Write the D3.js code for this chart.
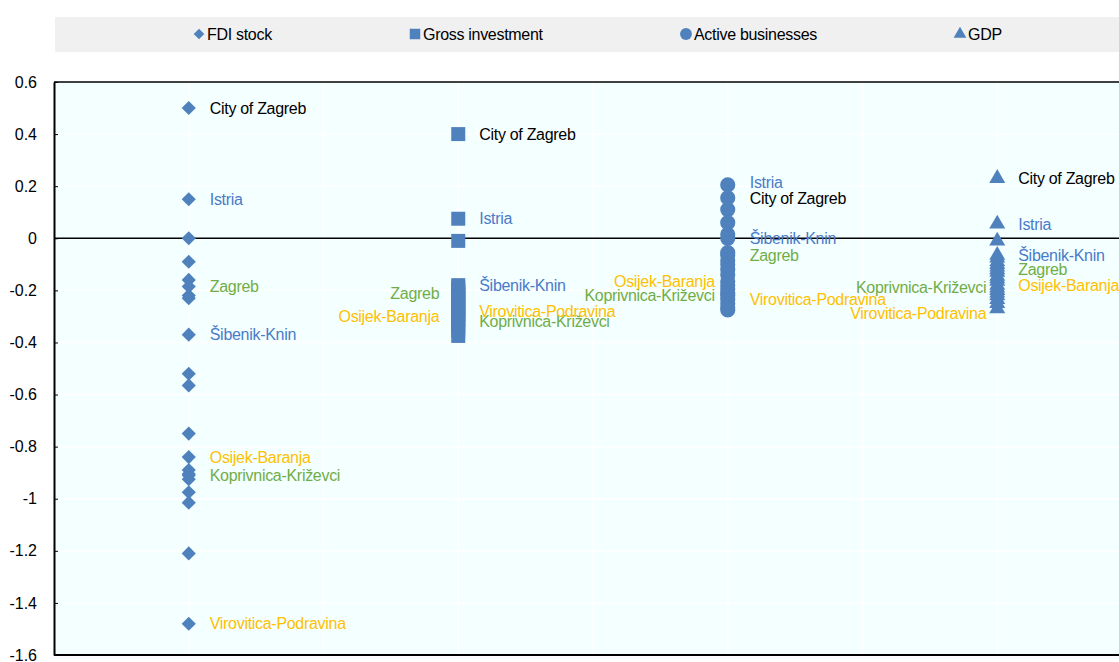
<!DOCTYPE html>
<html>
<head>
<meta charset="utf-8">
<script src="https://cdn.jsdelivr.net/npm/d3@7"></script>
<style>
  body { margin: 0; background: #fff; }
  svg text { font-family: "Liberation Sans", Arial, sans-serif; }
</style>
</head>
<body>
<svg id="chart" width="1119" height="662"></svg>
<script>
// series, in the order they sit along the x axis
const seriesNames = ["FDI stock", "Gross investment", "Active businesses", "GDP"]

// one value per county (21)
const fdiStock = [0.50, 0.15, 0.00, -0.09, -0.16, -0.185, -0.22, -0.23, -0.37, -0.52, -0.565,
                  -0.75, -0.84, -0.89, -0.905, -0.91, -0.925, -0.975, -1.015, -1.21, -1.48]
const grossInvestment = [0.40, 0.075, -0.01, -0.18, -0.19, -0.20, -0.21, -0.22, -0.23, -0.24, -0.25,
                         -0.26, -0.27, -0.28, -0.29, -0.30, -0.31, -0.32, -0.335, -0.355, -0.375]
const activeBusinesses = [0.205, 0.155, 0.11, 0.06, 0.015, 0.00, -0.055, -0.065, -0.085, -0.10, -0.12,
                          -0.14, -0.165, -0.18, -0.195, -0.21, -0.22, -0.235, -0.25, -0.265, -0.275]
const gdp = [0.23, 0.055, -0.01, -0.065, -0.075, -0.09, -0.10, -0.11, -0.12, -0.13, -0.145,
             -0.155, -0.165, -0.18, -0.19, -0.20, -0.21, -0.22, -0.235, -0.25, -0.27]

// the counties that carry a name in the chart
const labelledRegions = ["City of Zagreb", "Istria", "Šibenik-Knin", "Zagreb",
                         "Osijek-Baranja", "Koprivnica-Križevci", "Virovitica-Podravina"]
const fdiLabelled = [0.50, 0.15, -0.37, -0.185, -0.84, -0.91, -1.48]
const grossLabelled = [0.40, 0.075, -0.18, -0.21, -0.30, -0.32, -0.28]
const activeLabelled = [0.155, 0.205, 0.00, -0.065, -0.165, -0.22, -0.235]
const gdpLabelled = [0.23, 0.055, -0.065, -0.12, -0.18, -0.19, -0.27]

const yTicks = [0.6, 0.4, 0.2, 0, -0.2, -0.4, -0.6, -0.8, -1, -1.2, -1.4, -1.6]

// ---- styling / layout ----
const width = 1119, height = 662
const margin = { top: 82, left: 54 }
const markerColor = "#4f81bd"
const regionColor = {
  "City of Zagreb": "#000000",
  "Istria": "#4a7bc8",
  "Šibenik-Knin": "#4a7bc8",
  "Zagreb": "#70ad47",
  "Osijek-Baranja": "#ffc000",
  "Koprivnica-Križevci": "#70ad47",
  "Virovitica-Podravina": "#ffc000"
}
const symbols = [
  { type: d3.symbolSquare, size: 100, rotate: 45 },
  { type: d3.symbolSquare, size: 196, rotate: 0 },
  { type: d3.symbolCircle, size: 180, rotate: 0 },
  { type: d3.symbolTriangle, size: 111, rotate: 0 }
]
// which labels sit on the left of their column, and how far off the marker they start
const leftLabels = [[], ["Zagreb", "Osijek-Baranja"], ["Osijek-Baranja", "Koprivnica-Križevci"],
                    ["Koprivnica-Križevci", "Virovitica-Podravina"]]
const leftGap = [13, 19, 13, 11]
const rightGap = [21, 21, 22, 21]
const labelNudge = { "3|Virovitica-Podravina": 5, "2|Istria": -2 }

const allSeries = [fdiStock, grossInvestment, activeBusinesses, gdp]
const allLabelled = [fdiLabelled, grossLabelled, activeLabelled, gdpLabelled]

const svg = d3.select("#chart")

const xScale = d3.scaleLinear().domain([0, 8]).range([margin.left, 1132])
const yScale = d3.scaleLinear().domain([-1.6, 0.6]).range([655, margin.top])

// legend strip
svg.append("rect").attr("x", 55).attr("y", 17).attr("width", width - 55).attr("height", 35)
   .attr("fill", "#f0f0f0")

const legendX = [199, 415, 686, 960]
const legend = svg.append("g").selectAll("g").data(seriesNames).join("g")
  .attr("transform", (d, i) => `translate(${legendX[i]}, 34)`)
legend.append("path")
  .attr("d", (d, i) => d3.symbol(symbols[i].type, [56, 110, 110, 70][i])())
  .attr("transform", (d, i) => `rotate(${symbols[i].rotate})`)
  .attr("fill", markerColor)
legend.append("text").attr("x", 8).attr("dy", "0.35em")
  .style("font-size", "16px").style("letter-spacing", "-0.3px")
  .text(d => d)

// plot background + grid
const plot = svg.append("g")
plot.append("rect").attr("x", xScale(0)).attr("y", yScale(0.6))
    .attr("width", xScale(8) - xScale(0)).attr("height", yScale(-1.6) - yScale(0.6))
    .attr("fill", "#f4ffff")

plot.append("g").selectAll("line").data(yTicks.filter(d => d !== 0 && d !== 0.6 && d !== -1.6)).join("line")
    .attr("x1", xScale(0)).attr("x2", xScale(8))
    .attr("y1", d => yScale(d)).attr("y2", d => yScale(d))
    .attr("stroke", "#fff").attr("stroke-width", 1.5)
plot.append("g").selectAll("line").data(d3.range(1, 8)).join("line")
    .attr("x1", d => xScale(d)).attr("x2", d => xScale(d))
    .attr("y1", yScale(0.6)).attr("y2", yScale(-1.6))
    .attr("stroke", "#fff").attr("stroke-width", 1.5)

// border lines at top/bottom and the zero line
;[0.6, 0, -1.6].forEach(v => {
  plot.append("line").attr("x1", xScale(0)).attr("x2", xScale(8))
      .attr("y1", yScale(v)).attr("y2", yScale(v))
      .attr("stroke", "#000").attr("stroke-width", v === -1.6 ? 2 : 1.5)
})

// plain hyphen for negatives, like the original
const yAxis = d3.axisLeft(yScale).tickValues(yTicks)
  .tickSizeInner(-4).tickSizeOuter(0).tickPadding(17)
  .tickFormat(d => String(+d.toFixed(1)))
const yAxisG = svg.append("g").attr("transform", `translate(${margin.left},0)`).call(yAxis)
yAxisG.select(".domain").attr("stroke", "#000").attr("stroke-width", 2)
yAxisG.selectAll(".tick line").attr("stroke", "#000")
yAxisG.selectAll(".tick text").style("font-size", "16px").attr("fill", "#000")
      .style("font-family", "'Liberation Sans', Arial, sans-serif")

// markers
allSeries.forEach((values, i) => {
  const sym = d3.symbol(symbols[i].type, symbols[i].size)
  svg.append("g").selectAll("path").data(values).join("path")
    .attr("d", sym)
    .attr("transform", d => `translate(${xScale(2 * i + 1)}, ${yScale(d)}) rotate(${symbols[i].rotate})`)
    .attr("fill", markerColor)
})

// region labels
allLabelled.forEach((values, i) => {
  const cx = xScale(2 * i + 1)
  svg.append("g").selectAll("text").data(labelledRegions).join("text")
    .attr("x", d => leftLabels[i].includes(d) ? cx - leftGap[i] : cx + rightGap[i])
    .attr("y", (d, j) => yScale(values[j]) + (labelNudge[i + "|" + d] || 0))
    .attr("dy", "0.35em")
    .attr("text-anchor", d => leftLabels[i].includes(d) ? "end" : "start")
    .style("font-size", "16px").style("letter-spacing", "-0.3px")
    .attr("fill", d => regionColor[d])
    .text(d => d)
})
</script>
</body>
</html>
